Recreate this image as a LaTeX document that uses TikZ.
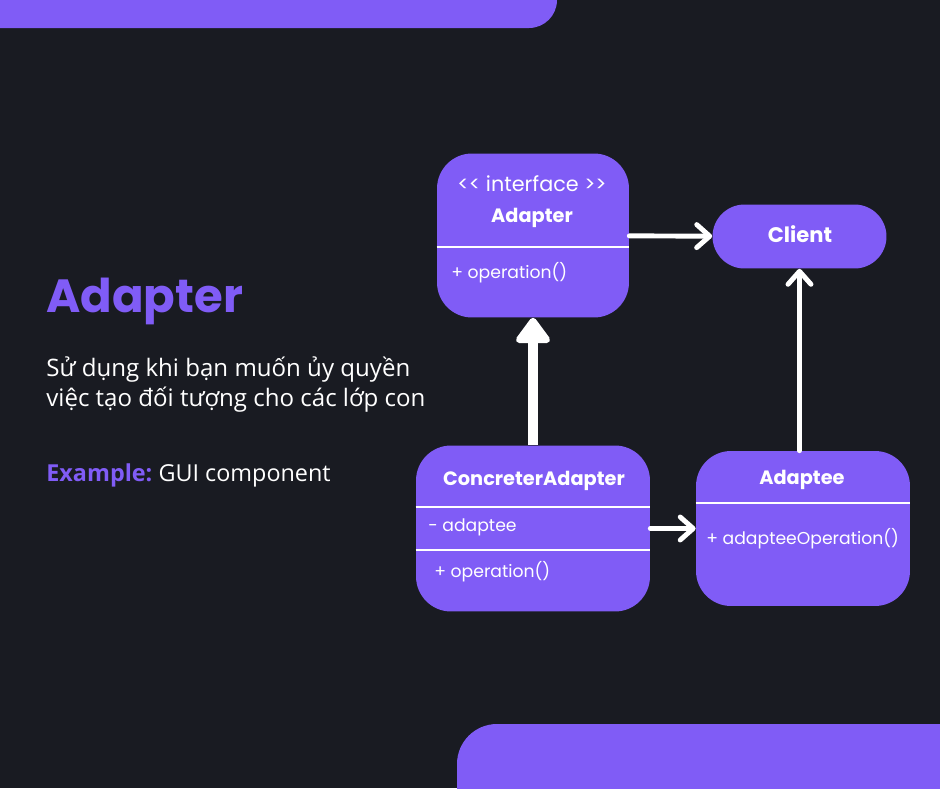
\documentclass[tikz,border=0pt]{standalone}
\usepackage{fontspec}
\setmainfont{Open Sans}
\newfontfamily\boxfont{Poppins}
\usetikzlibrary{arrows.meta}
\definecolor{bg}{HTML}{191B22}
\definecolor{accent}{HTML}{805CF6}
\definecolor{ink}{HTML}{FFFFFF}
\tikzset{
  cls/.style={fill=accent, rounded corners=0.7cm, inner sep=0pt},
  rule/.style={draw=ink, line width=0.7pt},
  hd/.style={text=ink, inner sep=0pt, font=\boxfont\bfseries\fontsize{11}{13}\selectfont},
  mem/.style={text=ink, inner sep=0pt, font=\boxfont\fontsize{9.8}{12}\selectfont},
  link/.style={draw=ink, line width=2.8pt, line cap=round,
    -{Straight Barb[length=0.26cm, width=0.46cm, round]}},
  inh/.style={draw=ink, line width=5.6pt,
    -{Triangle[length=0.56cm, width=0.78cm, round]}},
  ttl/.style={text=accent, inner sep=0pt, font=\boxfont\bfseries\fontsize{26.5}{30}\selectfont},
  body/.style={text=ink, inner sep=0pt, font=\fontsize{13.7}{17}\selectfont, align=left},
}
\begin{document}
\begin{tikzpicture}[x=0.02cm, y=-0.02cm]
  \useasboundingbox (0,0) rectangle (940,788);
  \clip (0,0) rectangle (940,788);
  % background and bars
  \fill[bg] (0,0) rectangle (940,788);
  \fill[accent, rounded corners=0.56cm] (-60,-60) rectangle (557,28);
  \fill[accent, rounded corners=0.8cm] (457,724) rectangle (1000,850);

  % left column
  \node[ttl, anchor=base west] (title) at (46,312.7) {Adapter};
  \node[body, anchor=base west] (desc) at (46,406.7)
    {Sử dụng khi bạn muốn ủy quyền\\việc tạo đối tượng cho các lớp con};
  \node[body, font=\fontsize{13.3}{17}\selectfont, anchor=base west] (example) at (46,481.7)
    {\textcolor{accent}{\bfseries Example:}\hspace{-0.08em} GUI component};

  % classes
  \node[cls, minimum width=3.84cm, minimum height=3.28cm] (adapter) at (533,235.5) {};
  \node[cls, rounded corners=0.64cm, minimum width=3.48cm, minimum height=1.28cm] (client) at (799.5,236.5) {};
  \node[cls, minimum width=4.68cm, minimum height=3.32cm] (concrete) at (533,528.5) {};
  \node[cls, minimum width=4.28cm, minimum height=3.1cm] (adaptee) at (803,528.5) {};

  \draw[rule] (adapter.west |- 0,247) -- (adapter.east |- 0,247);
  \draw[rule] (concrete.west |- 0,507) -- (concrete.east |- 0,507);
  \draw[rule] (concrete.west |- 0,550) -- (concrete.east |- 0,550);
  \draw[rule] (adaptee.west |- 0,503) -- (adaptee.east |- 0,503);

  \node[mem, font=\boxfont\fontsize{11.8}{14}\selectfont, anchor=base] (stereo) at (532,191.5) {<{}< interface >{}>};
  \node[hd, anchor=base] (adapter-name) at (532,222) {Adapter};
  \node[mem, anchor=base west] (adapter-op) at (451,278) {+ operation()};
  \node[hd, font=\boxfont\bfseries\fontsize{12}{14}\selectfont, anchor=base] (client-name) at (800,242) {Client};
  \node[hd, anchor=base] (concrete-name) at (534,485) {ConcreterAdapter};
  \node[mem, anchor=base west] (concrete-att) at (428,531) {- adaptee};
  \node[mem, anchor=base west] (concrete-op) at (434,577) {+ operation()};
  \node[hd, anchor=base] (adaptee-name) at (802,484) {Adaptee};
  \node[mem, anchor=base west] (adaptee-op) at (706,544) {+ adapteeOperation()};

  % relations
  \draw[link] (adapter) -- (client);
  \draw[link] (client.south |- adaptee.north) -- (client.south);
  \draw[inh] (concrete) -- (adapter);
  \draw[link] (concrete) -- (adaptee);
\end{tikzpicture}
\end{document}
